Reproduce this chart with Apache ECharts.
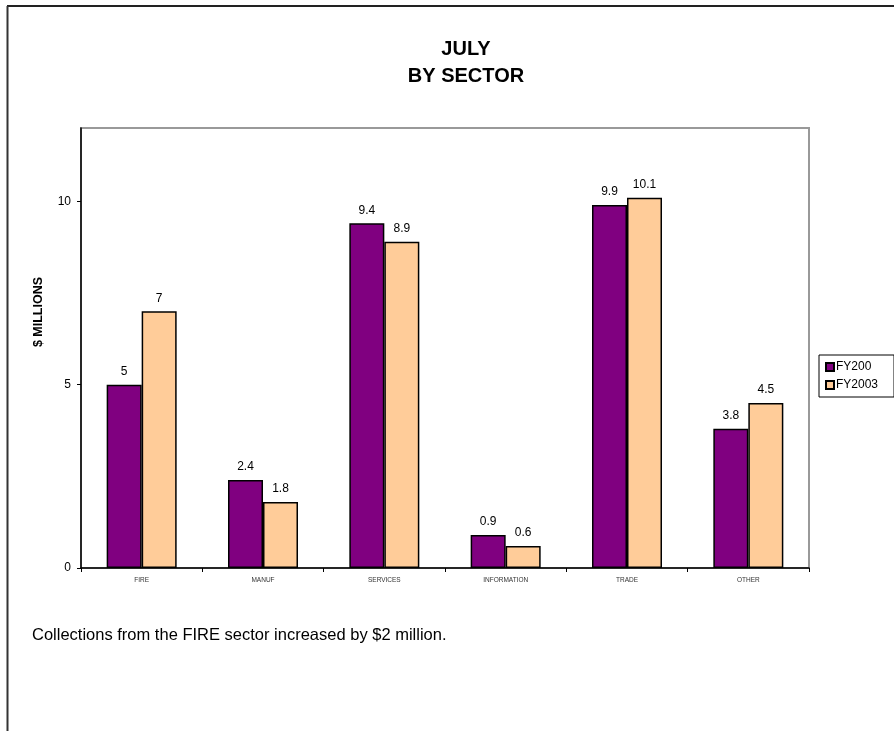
<!DOCTYPE html>
<html><head><meta charset="utf-8">
<script src="https://cdn.jsdelivr.net/npm/echarts@6/dist/echarts.min.js"></script>
<style>html,body{margin:0;padding:0;background:#fff}#c{width:894px;height:731px}</style>
</head><body><div id="c"></div>
<script>
var categories = ['FIRE','MANUF','SERVICES','INFORMATION','TRADE','OTHER'];
var seriesNames = ['FY200','FY2003'];
var fy200 = [5, 2.4, 9.4, 0.9, 9.9, 3.8];
var fy2003 = [7, 1.8, 8.9, 0.6, 10.1, 4.5];
var yTicks = [0, 5, 10];

var chart = echarts.init(document.getElementById('c'), null, {renderer:'canvas'});
var font = 'Arial, "Liberation Sans", sans-serif';
var lbl = {show:true, position:'top', distance:7, color:'#000', fontSize:12, fontFamily:font};
chart.setOption({
  animation:false,
  backgroundColor:'#fff',
  title:{text:'JULY\nBY SECTOR', left:461, top:31, textAlign:'center',
    textStyle:{fontFamily:font, fontWeight:'bold', fontSize:20, lineHeight:27, color:'#000'}},
  legend:{orient:'vertical', left:819, top:355, itemWidth:8, itemHeight:8, itemGap:6,
    padding:[6,16,6,6], borderColor:'#000', borderWidth:1, borderRadius:0,
    data:seriesNames.map(function(n){return {name:n, icon:'rect'};}),
    textStyle:{fontFamily:font, fontSize:12, color:'#000', padding:[0,0,0,-3]}},
  grid:{left:81, top:128, right:85, bottom:163, show:true, borderColor:'#999', borderWidth:2, backgroundColor:'#fff'},
  xAxis:{type:'category', data:categories,
    axisLine:{lineStyle:{color:'#000', width:1.5}},
    axisTick:{show:true, length:4, lineStyle:{color:'#000'}},
    axisLabel:{fontFamily:font, fontSize:6.5, color:'#333', margin:9}},
  yAxis:{type:'value', min:0, max:12, interval:5,
    axisLine:{show:true, lineStyle:{color:'#000', width:1.5}},
    axisTick:{show:true, length:4, customValues:yTicks, lineStyle:{color:'#000'}},
    axisLabel:{fontFamily:font, fontSize:12, color:'#000', margin:10, customValues:yTicks},
    splitLine:{show:false}},
  series:[
    {name:seriesNames[0], type:'bar', data:fy200, barWidth:35, barGap:'0%',
     itemStyle:{color:'#800080', borderColor:'#000', borderWidth:1.5}, label:lbl},
    {name:seriesNames[1], type:'bar', data:fy2003, barWidth:35, barGap:'0%',
     itemStyle:{color:'#FFCC99', borderColor:'#000', borderWidth:1.5}, label:lbl}
  ],
  graphic:[
    {type:'line', shape:{x1:7,y1:6,x2:894,y2:6}, style:{stroke:'#222', lineWidth:2}},
    {type:'line', shape:{x1:7.5,y1:6,x2:7.5,y2:731}, style:{stroke:'#333', lineWidth:2}},
    {type:'text', x:39, y:312, rotation:Math.PI/2,
     style:{text:'$ MILLIONS', fontFamily:font, fontWeight:'bold', fontSize:12.5, fill:'#000', align:'center', verticalAlign:'middle'}},
    {type:'text', x:32, y:635,
     style:{text:'Collections from the FIRE sector increased by $2 million.', fontFamily:font, fontSize:16.5, fill:'#000', verticalAlign:'middle'}}
  ]
});
</script></body></html>
